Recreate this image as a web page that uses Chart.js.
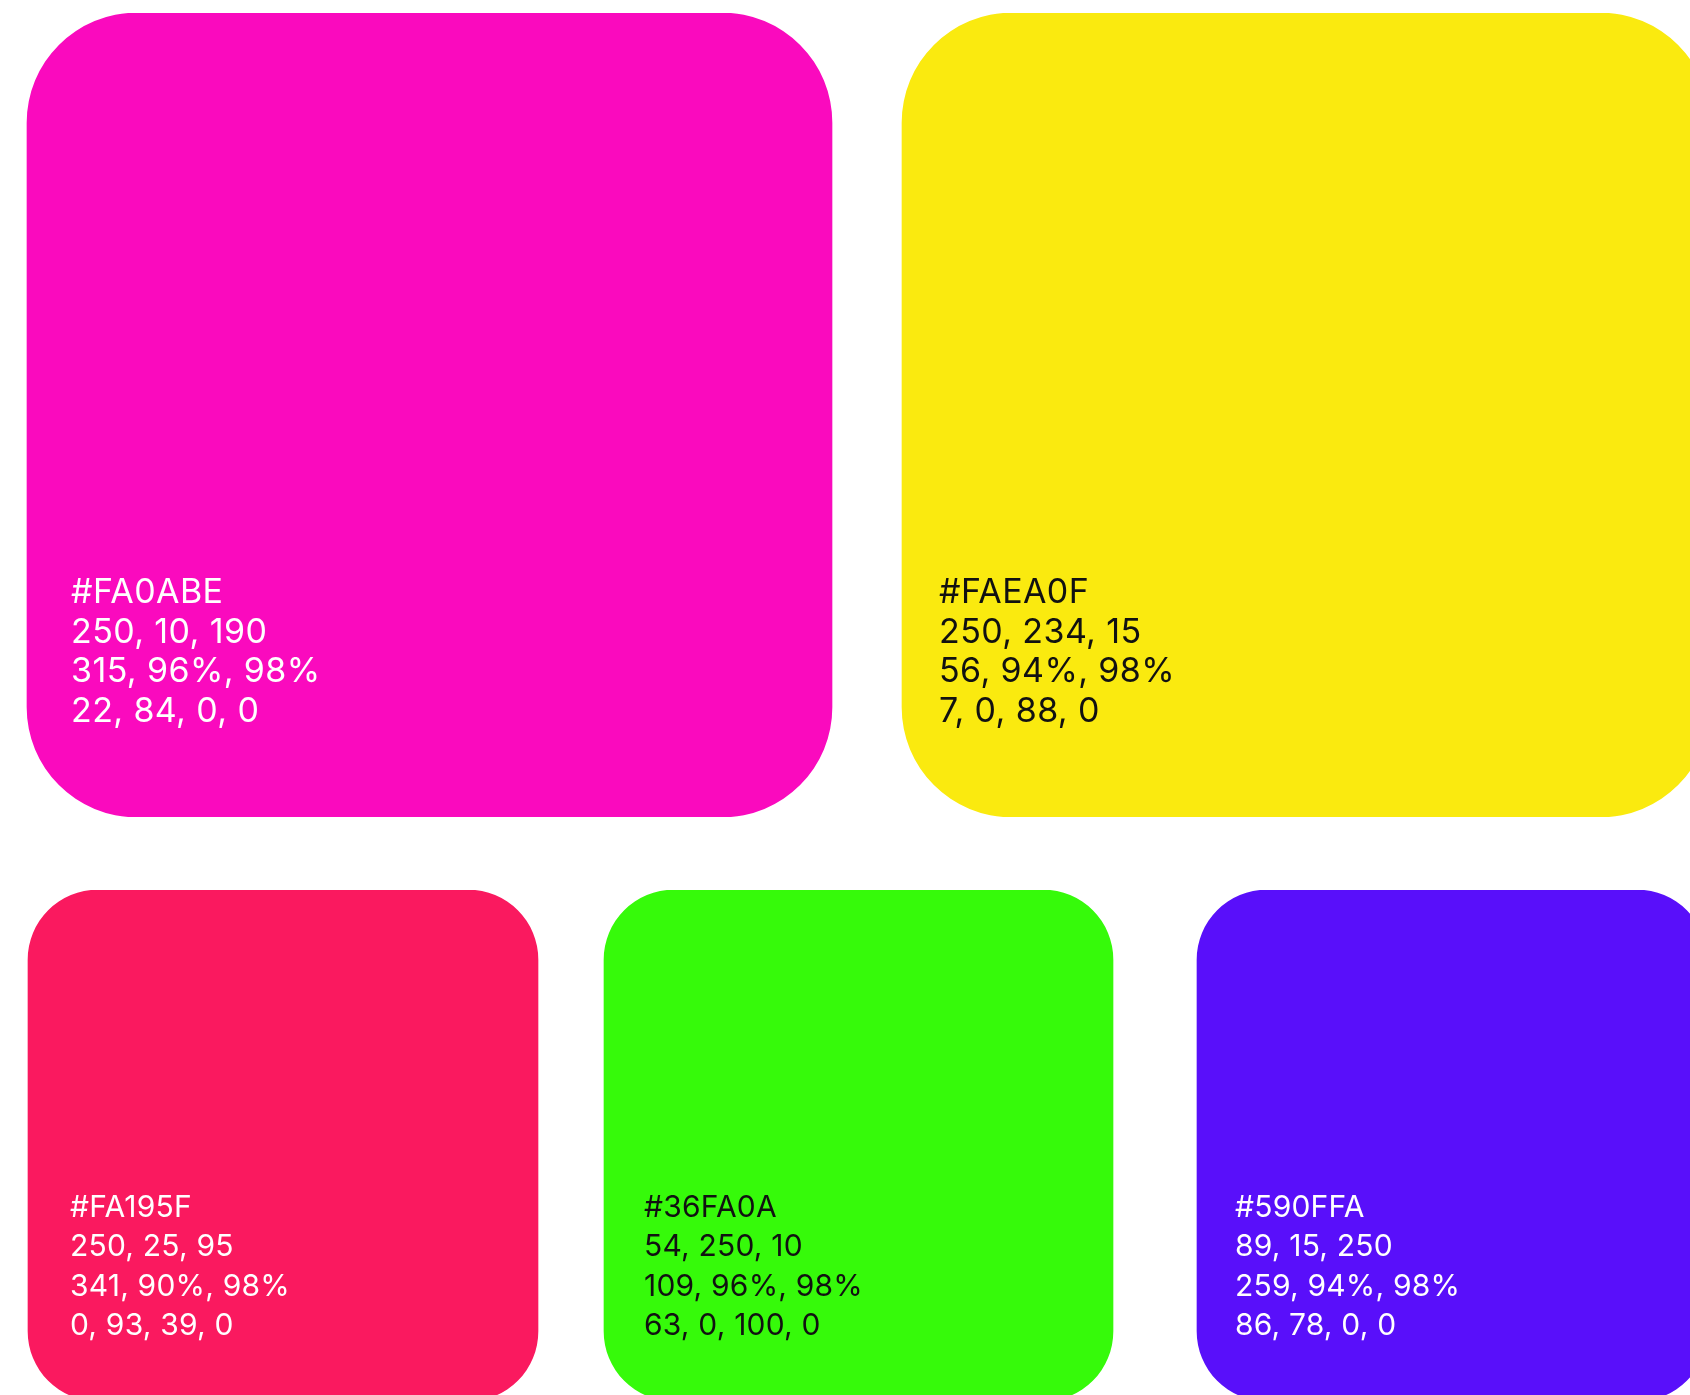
<!DOCTYPE html>
<html>
<head>
<meta charset="utf-8">
<script src="https://cdn.jsdelivr.net/npm/chart.js@4/dist/chart.umd.min.js"></script>
<style>
  html, body { margin: 0; padding: 0; background: #fff; overflow: hidden; width: 1690px; height: 1395px; }
  .row { position: absolute; left: 0; }
  #topRow { top: 13px; }
  #bottomRow { top: 890px; }
</style>
</head>
<body>
<div class="row" id="topRow"><canvas id="topChart" width="1720" height="804"></canvas></div>
<div class="row" id="bottomRow"><canvas id="bottomChart" width="1720" height="511"></canvas></div>
<script>
// ===============================
// Palette values
// ===============================
const hexCodes = ["#FA0ABE", "#FAEA0F", "#FA195F", "#36FA0A", "#590FFA"];
const rgbValues = ["250, 10, 190", "250, 234, 15", "250, 25, 95", "54, 250, 10", "89, 15, 250"];
const hsbValues = ["315, 96%, 98%", "56, 94%, 98%", "341, 90%, 98%", "109, 96%, 98%", "259, 94%, 98%"];
const cmykValues = ["22, 84, 0, 0", "7, 0, 88, 0", "0, 93, 39, 0", "63, 0, 100, 0", "86, 78, 0, 0"];

// layout (which row, horizontal span in px) and text colour
const rowOf = [0, 0, 1, 1, 1];
const spans = [[27, 832], [902, 1710], [28, 538], [604, 1113], [1197, 1707]];
const inkColors = ["#ffffff", "#111111", "#ffffff", "#111111", "#ffffff"];

const rows = [
  { canvas: "topChart", radius: 110, font: 34, spacing: "0.4px", firstLine: 590, lineGap: 39.5, indent: [44, 37] },
  { canvas: "bottomChart", radius: 70, font: 30, spacing: "0.2px", firstLine: 327, lineGap: 39.3, indent: [42, 40, 38] }
];

// ===============================
// Text inside each swatch
// ===============================
const swatchText = {
  id: "swatchText",
  afterDatasetsDraw(chart, args, opts) {
    const ctx = chart.ctx;
    chart.data.datasets.forEach((ds, i) => {
      const bar = chart.getDatasetMeta(i).data[0];
      const left = Math.min(bar.x, bar.base);
      const top = bar.y - bar.height / 2;
      const k = ds.swatch;
      const lines = [hexCodes[k], rgbValues[k], hsbValues[k], cmykValues[k]];
      ctx.save();
      ctx.fillStyle = inkColors[k];
      ctx.font = `400 ${opts.font}px Inter`;
      ctx.letterSpacing = opts.spacing;
      ctx.textBaseline = "alphabetic";
      lines.forEach((t, j) => {
        ctx.fillText(t, left + opts.indent[i], top + opts.firstLine + j * opts.lineGap);
      });
      ctx.restore();
    });
  }
};

function dibujarFila(r) {
  const cfg = rows[r];
  const idx = rowOf.map((v, k) => v === r ? k : -1).filter(k => k >= 0);

  new Chart(document.getElementById(cfg.canvas), {
    type: "bar",
    data: {
      labels: ["fila"],
      datasets: idx.map(k => ({
        swatch: k,
        data: [spans[k]],
        backgroundColor: hexCodes[k],
        borderWidth: 0,
        borderRadius: cfg.radius,
        borderSkipped: false,
        barPercentage: 1,
        categoryPercentage: 1,
        grouped: false
      }))
    },
    options: {
      indexAxis: "y",
      responsive: false,
      animation: false,
      devicePixelRatio: 1,
      layout: { padding: 0 },
      scales: {
        x: { type: "linear", min: 0, max: 1720, display: false },
        y: { display: false }
      },
      plugins: {
        legend: { display: false },
        tooltip: { enabled: false },
        swatchText: cfg
      }
    },
    plugins: [swatchText]
  });
}

// Inicializar
dibujarFila(0);
dibujarFila(1);
</script>
</body>
</html>
